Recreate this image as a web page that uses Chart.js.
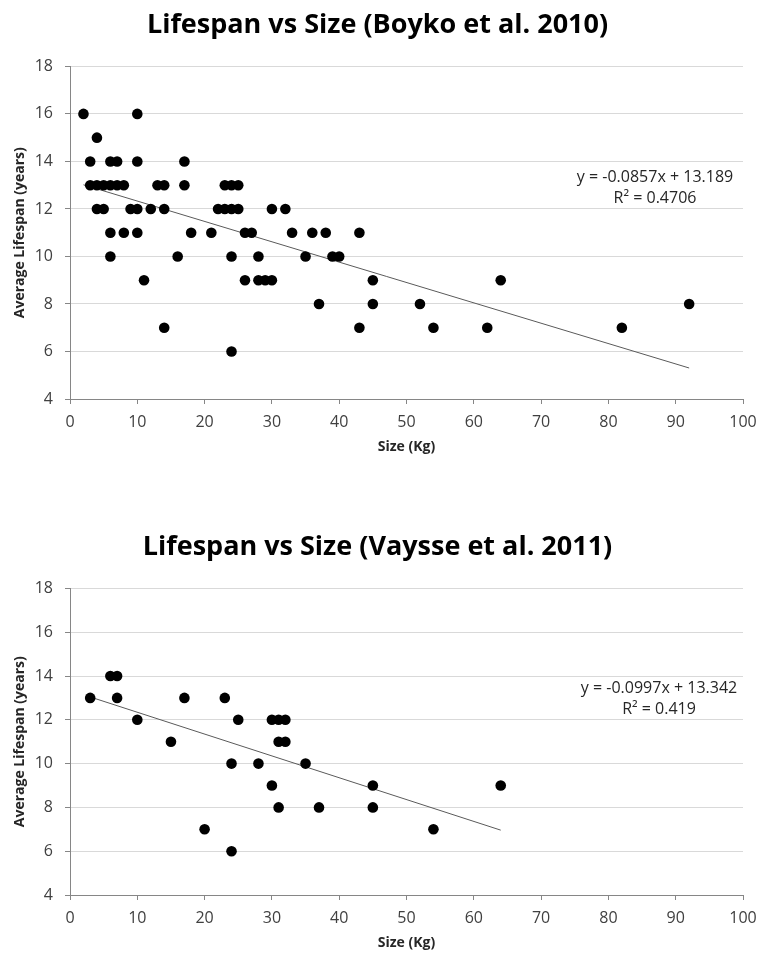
<!DOCTYPE html>
<html>
<head>
<meta charset="utf-8">
<script src="https://cdn.jsdelivr.net/npm/chart.js@4/dist/chart.umd.min.js"></script>
<style>
  body { margin: 0; background: #fff; }
  .box { position: absolute; left: 0; width: 768px; height: 460px; }
</style>
</head>
<body>
<div class="box" style="top:0"><canvas id="boyko" width="768" height="460"></canvas></div>
<div class="box" style="top:496px"><canvas id="vaysse" width="768" height="460"></canvas></div>
<script>
// Boyko et al. 2010 (size kg, lifespan years)
const boykoSize = [2, 3, 3, 4, 4, 4, 5, 5, 6, 6, 6, 6, 7, 7, 8, 8, 9, 10, 10, 10, 10, 11, 12, 13, 14, 14, 14,
  16, 17, 17, 18, 21, 22, 23, 23, 24, 24, 24, 24, 25, 25, 26, 26, 27, 28, 28, 29, 30, 30, 32, 33, 35,
  36, 37, 38, 39, 40, 43, 43, 45, 45, 52, 54, 62, 64, 82, 92]
const boykoLife = [16, 14, 13, 15, 13, 12, 13, 12, 14, 13, 11, 10, 14, 13, 13, 11, 12, 16, 14, 12, 11, 9, 12, 13, 13, 12, 7,
  10, 14, 13, 11, 11, 12, 13, 12, 13, 12, 10, 6, 13, 12, 11, 9, 11, 10, 9, 9, 9, 12, 12, 11, 10,
  11, 8, 11, 10, 10, 11, 7, 9, 8, 8, 7, 7, 9, 7, 8]

// Vaysse et al. 2011
const vaysseSize = [3, 6, 7, 7, 10, 15, 17, 20, 23, 24, 24, 25, 28, 30, 30, 31, 31, 31, 32, 32, 35, 37, 45, 45, 54, 64]
const vaysseLife = [13, 14, 14, 13, 12, 11, 13, 7, 13, 10, 6, 12, 10, 12, 9, 12, 11, 8, 12, 11, 10, 8, 9, 8, 7, 9]

// linear trend lines as printed on the charts
const titles = ['Lifespan vs Size (Boyko et al. 2010)', 'Lifespan vs Size (Vaysse et al. 2011)']
const slopes = [-0.0857, -0.0997]
const intercepts = [13.189, 13.342]
const r2 = ['0.4706', '0.419']

const xTicks = [0, 10, 20, 30, 40, 50, 60, 70, 80, 90, 100]
const yTicks = [4, 6, 8, 10, 12, 14, 16, 18]

Chart.defaults.font.family = "'Open Sans', sans-serif"

const eqLabel = {
    id: 'eqLabel',
    afterDraw(chart, args, opts) {
        const ctx = chart.ctx
        const a = chart.chartArea
        ctx.save()
        ctx.font = "16px 'Open Sans', sans-serif"
        ctx.fillStyle = '#262626'
        ctx.textAlign = 'center'
        ctx.textBaseline = 'middle'
        ctx.fillText(opts.line1, a.right - opts.dx, a.top + opts.dy)
        ctx.fillText(opts.line2, a.right - opts.dx, a.top + opts.dy + 21)
        ctx.restore()
    }
}

function makeChart(id, idx, sizes, lives, padTop) {
    const points = sizes.map((s, i) => ({ x: s, y: lives[i] }))
    const lo = Math.min(...sizes)
    const hi = Math.max(...sizes)
    const trend = [lo, hi].map(x => ({ x: x, y: slopes[idx] * x + intercepts[idx] }))
    const sign = intercepts[idx] >= 0 ? '+ ' : '- '
    return new Chart(document.getElementById(id), {
        type: 'scatter',
        data: {
            datasets: [{
                data: points,
                backgroundColor: '#000',
                borderWidth: 0,
                pointRadius: 5.3,
                order: 1
            }, {
                type: 'line',
                data: trend,
                borderColor: '#5a5a5a',
                borderWidth: 1,
                pointRadius: 0,
                fill: false,
                order: 2
            }]
        },
        options: {
            responsive: false,
            animation: false,
            layout: { padding: { left: 12, right: 25, top: padTop, bottom: 0 } },
            plugins: {
                legend: { display: false },
                tooltip: { enabled: false },
                title: {
                    display: true,
                    text: titles[idx],
                    color: '#000',
                    font: { size: 27, weight: 'bold' },
                    padding: { top: 9, bottom: 25 }
                },
                eqLabel: {
                    line1: 'y = ' + slopes[idx] + 'x ' + sign + Math.abs(intercepts[idx]),
                    line2: 'R² = ' + r2[idx],
                    dx: idx == 0 ? 88 : 84,
                    dy: idx == 0 ? 111 : 100
                }
            },
            scales: {
                x: {
                    type: 'linear',
                    min: 0,
                    max: 100,
                    afterBuildTicks: s => { s.ticks = xTicks.map(v => ({ value: v })) },
                    afterFit: s => { s.height = 61 },
                    ticks: { color: '#404040', font: { size: 16 }, padding: 9, maxRotation: 0 },
                    grid: { drawOnChartArea: false, tickLength: 5, tickColor: '#868686' },
                    border: { color: '#868686' },
                    title: {
                        display: true,
                        text: 'Size (Kg)',
                        color: '#262626',
                        font: { size: 14, weight: 'bold' },
                        padding: { top: 0, bottom: 5 }
                    }
                },
                y: {
                    min: 4,
                    max: 18,
                    afterBuildTicks: s => { s.ticks = yTicks.map(v => ({ value: v })) },
                    afterFit: s => { s.width = 58 },
                    ticks: { color: '#404040', font: { size: 16 }, padding: 12 },
                    grid: { color: '#d9d9d9', tickLength: 5, tickColor: '#868686' },
                    border: { color: '#868686' },
                    title: {
                        display: true,
                        text: 'Average Lifespan (years)',
                        color: '#262626',
                        font: { size: 14, weight: 'bold' },
                        padding: { top: 0, bottom: 0 }
                    }
                }
            }
        },
        plugins: [eqLabel]
    })
}

makeChart('boyko', 0, boykoSize, boykoLife, 0)
makeChart('vaysse', 1, vaysseSize, vaysseLife, 26)
</script>
</body>
</html>
